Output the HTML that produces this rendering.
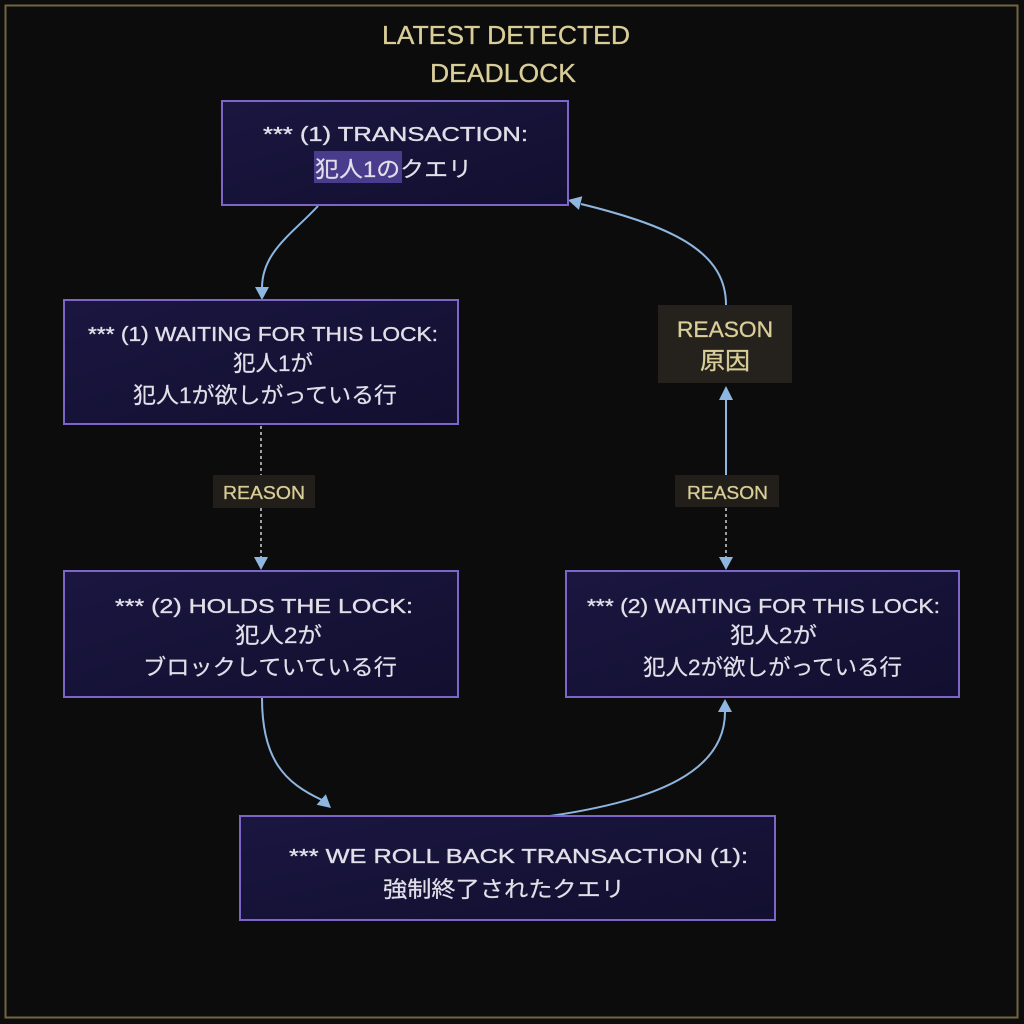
<!DOCTYPE html>
<html>
<head>
<meta charset="utf-8">
<style>
  html, body { margin:0; padding:0; background:#0c0c0c; }
  svg { display:block; }
  .en { font-family:"Liberation Sans","Noto Sans CJK JP",sans-serif; fill:#e2dfe9; stroke:#e2dfe9; stroke-width:0.35; }
  .jp { font-family:"Liberation Sans","Noto Sans CJK JP",sans-serif; fill:#e2dfe9; stroke:#e2dfe9; stroke-width:0.2; }
  .gold { font-family:"Liberation Sans","Noto Sans CJK JP",sans-serif; fill:#d9cd98; stroke:#d9cd98; stroke-width:0.3; }
</style>
</head>
<body>
<svg width="1024" height="1024" viewBox="0 0 1024 1024" xmlns="http://www.w3.org/2000/svg">
  <defs>
    <linearGradient id="bx" x1="0" y1="0" x2="1" y2="1">
      <stop offset="0" stop-color="#1a1640"/>
      <stop offset="1" stop-color="#120f30"/>
    </linearGradient>
  </defs>
  <rect x="0" y="0" width="1024" height="1024" fill="#0c0c0c"/>
  <rect x="5.5" y="5.5" width="1012" height="1012" fill="none" stroke="#71653f" stroke-width="2"/>

  <!-- Title -->
  <text class="gold" x="382" y="44" font-size="26" textLength="248" lengthAdjust="spacingAndGlyphs">LATEST DETECTED</text>
  <text class="gold" x="430" y="82" font-size="26" textLength="146" lengthAdjust="spacingAndGlyphs">DEADLOCK</text>

  <!-- Connectors -->
  <g fill="none" stroke="#8fb6e0" stroke-width="2">
    <path d="M318,206 C292,234 262,252 262,288"/>
    <path d="M262,698 C262,760 285,783 322,800"/>
    <path d="M550,816 C660,800 725,770 725,712"/>
    <path d="M726,475 L726,400"/>
    <path d="M726,305 C726,255 680,228 581,204"/>
  </g>
  <g fill="none" stroke="#c4c4cc" stroke-width="1.6" stroke-dasharray="3,3">
    <path d="M261,426 L261,475"/>
    <path d="M261,508 L261,557"/>
    <path d="M726,508 L726,557"/>
  </g>
  <g fill="#8fb6e0">
    <polygon points="255,287 269,287 262,300"/>
    <polygon points="254,557 268,557 261,570"/>
    <polygon points="316.6,804.7 325.8,794.2 331,808"/>
    <polygon points="718,712 732,712 725,699"/>
    <polygon points="719,400 733,400 726,386"/>
    <polygon points="719,557 733,557 726,570"/>
    <polygon points="582.3,196.3 578.9,209.9 568,200"/>
  </g>

  <!-- Boxes -->
  <g fill="url(#bx)" stroke="#7d66c8" stroke-width="2">
    <rect x="222" y="101" width="346" height="104"/>
    <rect x="64" y="300" width="394" height="124"/>
    <rect x="64" y="571" width="394" height="126"/>
    <rect x="566" y="571" width="393" height="126"/>
    <rect x="240" y="816" width="535" height="104"/>
  </g>

  <!-- Reason labels -->
  <rect x="658" y="305" width="134" height="78" fill="#25221d"/>
  <rect x="213" y="475" width="102" height="33" fill="#221f1a"/>
  <rect x="675" y="475" width="104" height="32" fill="#221f1a"/>
  <text class="gold" x="677" y="337" font-size="22" textLength="96" lengthAdjust="spacingAndGlyphs">REASON</text>
  <text class="gold" x="700" y="369" font-size="24" textLength="50" lengthAdjust="spacingAndGlyphs">原因</text>
  <text class="gold" x="223" y="499" font-size="18" textLength="82" lengthAdjust="spacingAndGlyphs">REASON</text>
  <text class="gold" x="687" y="499" font-size="18" textLength="81" lengthAdjust="spacingAndGlyphs">REASON</text>

  <!-- Box1 text -->
  <rect x="314" y="151" width="88" height="32" fill="#4a3c8c"/>
  <text class="en" x="263" y="141" font-size="20" textLength="265" lengthAdjust="spacingAndGlyphs">*** (1) TRANSACTION:</text>
  <text class="jp" x="315" y="177" font-size="22" textLength="157" lengthAdjust="spacingAndGlyphs">犯人1のクエリ</text>

  <!-- Box2 text -->
  <text class="en" x="88" y="341" font-size="20" textLength="350" lengthAdjust="spacingAndGlyphs">*** (1) WAITING FOR THIS LOCK:</text>
  <text class="jp" x="233" y="371" font-size="22" textLength="80" lengthAdjust="spacingAndGlyphs">犯人1が</text>
  <text class="jp" x="133" y="403" font-size="22" textLength="264" lengthAdjust="spacingAndGlyphs">犯人1が欲しがっている行</text>

  <!-- Box3 text -->
  <text class="en" x="115" y="613" font-size="20" textLength="298" lengthAdjust="spacingAndGlyphs">*** (2) HOLDS THE LOCK:</text>
  <text class="jp" x="235" y="643" font-size="22" textLength="87" lengthAdjust="spacingAndGlyphs">犯人2が</text>
  <text class="jp" x="143" y="675" font-size="22" textLength="254" lengthAdjust="spacingAndGlyphs">ブロックしていている行</text>

  <!-- Box4 text -->
  <text class="en" x="587" y="613" font-size="20" textLength="353" lengthAdjust="spacingAndGlyphs">*** (2) WAITING FOR THIS LOCK:</text>
  <text class="jp" x="730" y="643" font-size="22" textLength="87" lengthAdjust="spacingAndGlyphs">犯人2が</text>
  <text class="jp" x="643" y="675" font-size="22" textLength="259" lengthAdjust="spacingAndGlyphs">犯人2が欲しがっている行</text>

  <!-- Box5 text -->
  <text class="en" x="289" y="863" font-size="20" textLength="459" lengthAdjust="spacingAndGlyphs">*** WE ROLL BACK TRANSACTION (1):</text>
  <text class="jp" x="383" y="897" font-size="22" textLength="242" lengthAdjust="spacingAndGlyphs">強制終了されたクエリ</text>
</svg>
</body>
</html>
